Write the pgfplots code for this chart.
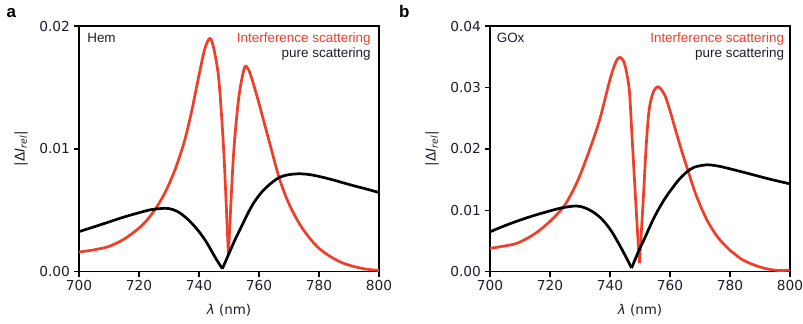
\documentclass[border=0pt]{standalone}
\usepackage{fontspec}
\setmainfont{DejaVu Sans}
\newfontfamily\arial{Liberation Sans}
\usepackage{pgfplots}
\pgfplotsset{compat=1.18}
\definecolor{ired}{RGB}{240,62,40}
\definecolor{ink}{RGB}{30,30,42}

\pgfplotsset{
  myaxis/.style={
    scale only axis, width=300bp, height=245.7bp,
    anchor=south west,
    xmin=700, xmax=800, xtick={700,720,740,760,780,800},
    ymin=0,
    axis line style={line width=1.4bp},
    every tick/.style={line width=1.4bp, black},
    tick align=outside, major tick length=5.5bp,
    xtick pos=bottom, ytick pos=left,
    minor tick num=0,
    scaled y ticks=false,
    /pgf/number format/assume math mode=true,
    tick label style={font=\fontsize{13.8}{16}\selectfont, text=ink},
    yticklabel style={/pgf/number format/.cd, fixed, fixed zerofill, precision=2},
    label style={font=\fontsize{13.5}{16}\selectfont, text=ink},
    xlabel={\textit{λ} (nm)},
    ylabel={|Δ\textit{I}\textsubscript{\textit{rel}}|},
    xlabel style={at={(axis description cs:0.5,-0.155)}, anchor=center},
    ylabel style={at={(axis description cs:-0.193,0.5)}, anchor=center},
    redline/.style={color=ired, line width=2.7bp, smooth, tension=0.5, line join=round},
    blackline/.style={color=black, line width=2.7bp, smooth, tension=0.5, line join=round},
  }
}

\begin{document}
\begin{tikzpicture}
\useasboundingbox (0,0) rectangle (803bp,324bp);

\node[anchor=base west, inner sep=0pt] at (6.5bp,306bp) {\arial\bfseries\fontsize{17}{20}\selectfont a};
\node[anchor=base west, inner sep=0pt] at (399bp,306bp) {\arial\bfseries\fontsize{17}{20}\selectfont b};

% ---------------- panel a ----------------
\begin{axis}[myaxis, at={(79bp,52.3bp)}, ymax=0.02, ytick={0,0.01,0.02}]
\addplot[redline] coordinates {
(700,0.00160) (705,0.00178) (710,0.00206) (715,0.00265) (720,0.00355)
(723,0.0043) (726,0.0053) (729,0.0066) (732,0.0083) (735,0.0105)
(737.5,0.0130) (740,0.0160) (742,0.0182) (743.7,0.0190) (745,0.0181)
(746.4,0.0161) (747.3,0.0135) (748.4,0.0091) (749.8,0.00136)
};
\addplot[redline] coordinates {
(749.8,0.00136) (751.4,0.0091) (752.8,0.0132) (753.9,0.0152) (755.3,0.01669)
(756.6,0.0164) (758,0.0154) (760,0.0137) (762.2,0.0117) (764.4,0.0097)
(766.4,0.0079) (768.5,0.0064) (771,0.0050) (774,0.0037) (777,0.0027)
(780,0.0019) (784,0.0012) (788,0.0007) (792,0.0004) (796,0.0002) (800,0.0001)
};
\addplot[blackline] coordinates {
(700,0.00326) (705,0.00365) (710,0.00405) (715,0.00445) (720,0.0048)
(724,0.00505) (728.5,0.00516) (730.5,0.00511) (732.5,0.00494) (734.5,0.00463)
(736.5,0.00421) (738.5,0.0037) (740.5,0.0031) (742.5,0.0024) (744.5,0.00155)
(746.3,0.0008) (747.8,0.00025)
};
\addplot[blackline] coordinates {
(747.8,0.00025) (749.5,0.0012) (752,0.0026) (754,0.0036) (756.4,0.0048)
(758.5,0.0057) (761,0.0065) (764,0.0072) (767,0.0077) (770,0.0079)
(773.5,0.00797) (777,0.0079) (781,0.0077) (785,0.00745) (790,0.0071)
(795,0.00678) (800,0.00645)
};
\node[anchor=base west, inner sep=0pt, font=\arial\fontsize{13.5}{15}\selectfont, text=ink] at (rel axis cs:0.027,0.931) {Hem};
\node[anchor=base east, inner sep=0pt, font=\arial\fontsize{13.5}{15}\selectfont, text=ired] at (rel axis cs:0.973,0.931) {Interference scattering};
\node[anchor=base east, inner sep=0pt, font=\arial\fontsize{13.5}{15}\selectfont, text=ink] at (rel axis cs:0.973,0.872) {pure scattering};
\end{axis}

% ---------------- panel b ----------------
\begin{axis}[myaxis, at={(490bp,52.3bp)}, ymax=0.04, ytick={0,0.01,0.02,0.03,0.04}]
\addplot[redline] coordinates {
(700,0.0038) (705,0.0042) (709.4,0.0047) (715,0.0062) (720,0.0082)
(725,0.0109) (729.4,0.0150) (733.9,0.0208) (736.7,0.0250) (740,0.0313)
(742,0.0342) (743.3,0.0349) (744.5,0.0343) (745.5,0.0325) (746.5,0.0292)
(747.4,0.0215) (748.6,0.0112) (749.8,0.0014)
};
\addplot[redline] coordinates {
(749.8,0.0014) (751,0.0110) (752,0.0200) (753,0.0262) (754.4,0.0292)
(756.1,0.0301) (758.2,0.0288) (760,0.0262) (762,0.0228) (764,0.0195)
(766.1,0.0163) (768.3,0.0130) (770.6,0.0102) (773,0.0078) (776.1,0.0055)
(780,0.0035) (784,0.0020) (788,0.0011) (792,0.0005) (796,0.0002) (800,0.00025)
};
\addplot[blackline] coordinates {
(700,0.0065) (705,0.0075) (710,0.0084) (715,0.0092) (720,0.0099)
(724,0.0104) (728.5,0.0107) (731,0.0105) (733,0.0101) (735,0.0095)
(737,0.0087) (739,0.0076) (741,0.0062) (743,0.0045) (745,0.0027) (747.2,0.0006)
};
\addplot[blackline] coordinates {
(747.2,0.0006) (749.5,0.0033) (751.7,0.0056) (754,0.0081) (756.1,0.0101)
(758.3,0.0119) (760.6,0.0135) (763,0.0150) (765.5,0.0162) (768,0.0170)
(772.2,0.0174) (776,0.0172) (780,0.01675) (786,0.0160) (793,0.0151) (800,0.0143)
};
\node[anchor=base west, inner sep=0pt, font=\arial\fontsize{13.5}{15}\selectfont, text=ink] at (rel axis cs:0.022,0.931) {GOx};
\node[anchor=base east, inner sep=0pt, font=\arial\fontsize{13.5}{15}\selectfont, text=ired] at (rel axis cs:0.981,0.931) {Interference scattering};
\node[anchor=base east, inner sep=0pt, font=\arial\fontsize{13.5}{15}\selectfont, text=ink] at (rel axis cs:0.981,0.872) {pure scattering};
\end{axis}
\end{tikzpicture}
\end{document}
